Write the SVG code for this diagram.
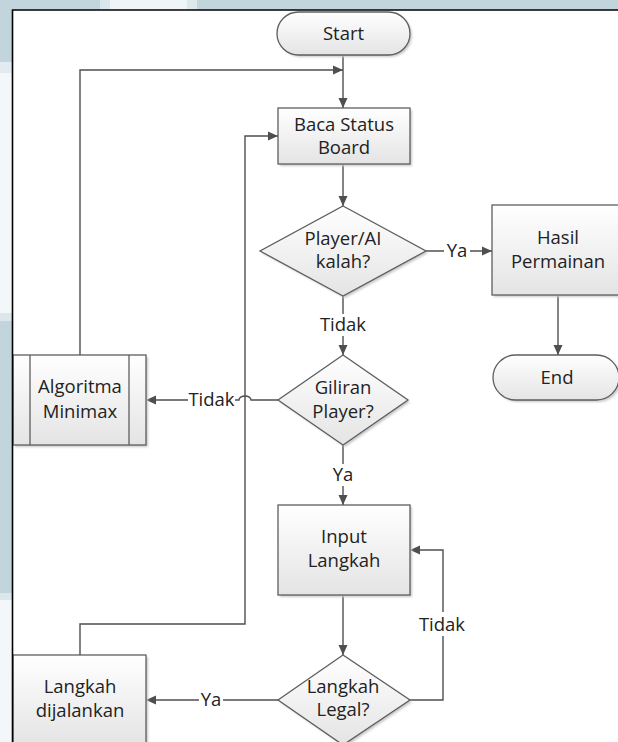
<svg xmlns="http://www.w3.org/2000/svg" width="618" height="742" viewBox="0 0 618 742">
  <style>
    .node { fill: url(#fillGrad); stroke: #5e5e5e; stroke-width: 1.3; }
    .shadow { fill: #c8c8c8; filter: url(#soft); }
    .inner { stroke: #5e5e5e; stroke-width: 1.3; fill: none; }
    .label { font-family: "Open Sans", "Noto Sans", sans-serif; font-size: 18.5px; fill: #222; text-anchor: middle; }
    .conn { fill: none; stroke: #4f4f4f; stroke-width: 1.4; }
    .conn-arrow { fill: none; stroke: #4f4f4f; stroke-width: 1.4; marker-end: url(#arrow); }
    .lblbg { fill: #ffffff; }
  </style>
  <defs>
    <linearGradient id="fillGrad" x1="0" y1="0" x2="0" y2="1">
      <stop offset="0" stop-color="#ffffff"/>
      <stop offset="1" stop-color="#e4e4e4"/>
    </linearGradient>
    <filter id="soft" x="-10%" y="-10%" width="130%" height="130%">
      <feGaussianBlur stdDeviation="1.2"/>
    </filter>
    <marker id="arrow" viewBox="0 0 10 10" refX="10" refY="5" markerWidth="10" markerHeight="10" markerUnits="userSpaceOnUse" orient="auto">
      <path d="M0 0.5 L10 5 L0 9.5 Z" fill="#4f4f4f"/>
    </marker>
  </defs>

  <!-- backdrop strips -->
  <rect x="0" y="0" width="618" height="742" fill="#c3d5dc"/>
  <rect x="100" y="0" width="12" height="10" fill="#dae6eb"/>
  <rect x="110" y="0" width="78" height="10" fill="#eef4f7"/>
  <rect x="187" y="0" width="10" height="10" fill="#dde8ec"/>
  <rect x="0" y="62" width="12" height="12" fill="#e2ecf0"/>
  <rect x="0" y="73" width="12" height="240" fill="#f3f7f9"/>
  <rect x="0" y="313" width="12" height="8" fill="#dce7eb"/>
  <rect x="0" y="593" width="12" height="8" fill="#dce7eb"/>
  <rect x="0" y="600" width="12" height="142" fill="#f3f7f9"/>

  <!-- page -->
  <rect x="12.5" y="10" width="700" height="800" fill="#ffffff"/>

  <!-- connectors -->
  <g id="connectors">
    <path class="conn-arrow" d="M343 55 V108"/>
    <path class="conn-arrow" d="M80 355 V70 H343"/>
    <path class="conn-arrow" d="M343 164 V206"/>
    <path class="conn-arrow" d="M426 251 H492"/>
    <path class="conn-arrow" d="M558 295 V355"/>
    <path class="conn-arrow" d="M343 296 V355"/>
    <path class="conn-arrow" d="M278 400 H251 A6 4 0 0 0 239 400 H146"/>
    <path class="conn-arrow" d="M343 445 V505"/>
    <path class="conn-arrow" d="M343 595 V655"/>
    <path class="conn-arrow" d="M410 700 H443 V550 H410"/>
    <path class="conn-arrow" d="M278 700 H146"/>
    <path class="conn-arrow" d="M80 655 V624 H245 V136 H278"/>

    <rect class="lblbg" x="444" y="241" width="26" height="20"/>
    <text class="label" x="457" y="257">Ya</text>
    <rect class="lblbg" x="319" y="314" width="48" height="22"/>
    <text class="label" x="343" y="331">Tidak</text>
    <rect class="lblbg" x="188" y="390" width="47" height="20"/>
    <text class="label" x="211.5" y="406">Tidak</text>
    <rect class="lblbg" x="330" y="464" width="26" height="22"/>
    <text class="label" x="343" y="481">Ya</text>
    <rect class="lblbg" x="418" y="612" width="50" height="24"/>
    <text class="label" x="442" y="631">Tidak</text>
    <rect class="lblbg" x="199" y="690" width="24" height="20"/>
    <text class="label" x="211" y="706">Ya</text>
  </g>

  <g id="start">
    <rect class="shadow" x="279" y="14" width="133" height="43" rx="21.5"/>
    <rect class="node" x="277" y="12" width="133" height="43" rx="21.5"/>
    <text class="label" x="343.5" y="40">Start</text>
  </g>

  <g id="baca-status-board">
    <rect class="shadow" x="280" y="110" width="132" height="56"/>
    <rect class="node" x="278" y="108" width="132" height="56"/>
    <text class="label" x="344" y="131">Baca Status</text>
    <text class="label" x="344" y="154">Board</text>
  </g>

  <g id="player-ai-kalah">
    <polygon class="shadow" points="345,208 428,253 345,298 262,253"/>
    <polygon class="node" points="343,206 426,251 343,296 260,251"/>
    <text class="label" x="343" y="245">Player/AI</text>
    <text class="label" x="343" y="268">kalah?</text>
  </g>

  <g id="hasil-permainan">
    <rect class="shadow" x="494" y="207" width="132" height="90"/>
    <rect class="node" x="492" y="205" width="132" height="90"/>
    <text class="label" x="558" y="244">Hasil</text>
    <text class="label" x="558" y="268">Permainan</text>
  </g>

  <g id="end">
    <rect class="shadow" x="495" y="357" width="126" height="45" rx="22.5"/>
    <rect class="node" x="493" y="355" width="126" height="45" rx="22.5"/>
    <text class="label" x="557" y="384">End</text>
  </g>

  <g id="giliran-player">
    <polygon class="shadow" points="345,357 410,402 345,447 280,402"/>
    <polygon class="node" points="343,355 408,400 343,445 278,400"/>
    <text class="label" x="343" y="394">Giliran</text>
    <text class="label" x="343" y="418">Player?</text>
  </g>

  <g id="algoritma-minimax">
    <rect class="shadow" x="15" y="357" width="133" height="90"/>
    <rect class="node" x="13" y="355" width="133" height="90"/>
    <line class="inner" x1="30" y1="355" x2="30" y2="445"/>
    <line class="inner" x1="129" y1="355" x2="129" y2="445"/>
    <text class="label" x="80" y="393">Algoritma</text>
    <text class="label" x="80" y="418">Minimax</text>
  </g>

  <g id="input-langkah">
    <rect class="shadow" x="280" y="507" width="132" height="90"/>
    <rect class="node" x="278" y="505" width="132" height="90"/>
    <text class="label" x="344" y="543">Input</text>
    <text class="label" x="344" y="567">Langkah</text>
  </g>

  <g id="langkah-legal">
    <polygon class="shadow" points="345,657 412,702 345,747 280,702"/>
    <polygon class="node" points="343,655 410,700 343,745 278,700"/>
    <text class="label" x="343" y="693">Langkah</text>
    <text class="label" x="343" y="716">Legal?</text>
  </g>

  <g id="langkah-dijalankan">
    <rect class="shadow" x="15" y="657" width="133" height="90"/>
    <rect class="node" x="13" y="655" width="133" height="90"/>
    <text class="label" x="80" y="693">Langkah</text>
    <text class="label" x="80" y="717">dijalankan</text>
  </g>

  <!-- page frame -->
  <path d="M12.5 742 V10 H618" fill="none" stroke="#000000" stroke-width="1.6"/>
</svg>
